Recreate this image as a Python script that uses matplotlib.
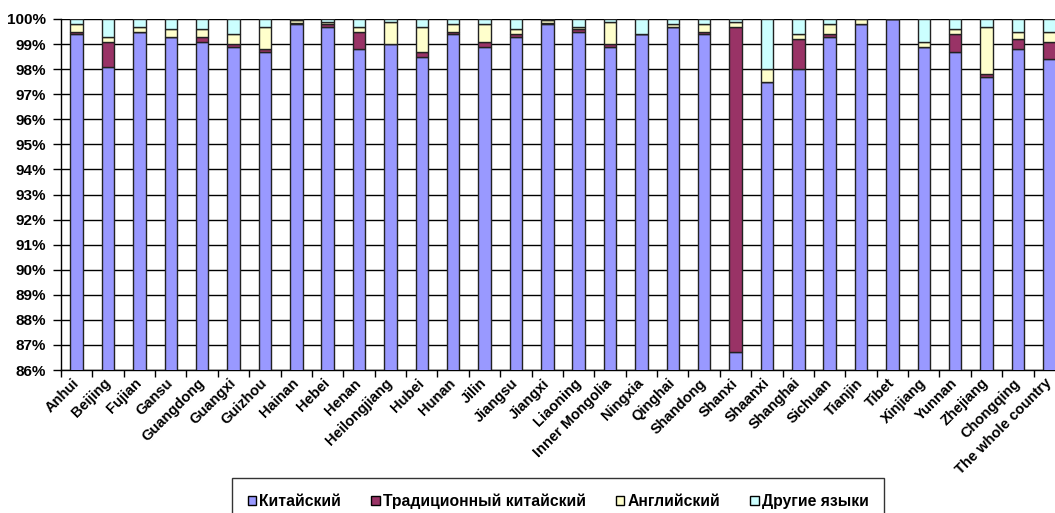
import numpy as np
import matplotlib
matplotlib.use("Agg")
import matplotlib.pyplot as plt
import matplotlib.transforms as mtransforms
from matplotlib.ticker import FuncFormatter

plt.rcParams['font.family'] = ['Liberation Sans', 'DejaVu Sans']
plt.rcParams['font.weight'] = 'bold'

regions = ['Anhui', 'Beijing', 'Fujian', 'Gansu', 'Guangdong', 'Guangxi', 'Guizhou',
           'Hainan', 'Hebei', 'Henan', 'Heilongjiang', 'Hubei', 'Hunan', 'Jilin',
           'Jiangsu', 'Jiangxi', 'Liaoning', 'Inner Mongolia', 'Ningxia', 'Qinghai',
           'Shandong', 'Shanxi', 'Shaanxi', 'Shanghai', 'Sichuan', 'Tianjin', 'Tibet',
           'Xinjiang', 'Yunnan', 'Zhejiang', 'Chongqing', 'The whole country']

chinese = [99.4, 98.1, 99.5, 99.3, 99.1, 98.9, 98.7, 99.8, 99.7, 98.8, 99.0, 98.5,
           99.4, 98.9, 99.3, 99.8, 99.5, 98.9, 99.4, 99.7, 99.4, 86.7, 97.5, 98.0,
           99.3, 99.8, 100.0, 98.9, 98.7, 97.7, 98.8, 98.4]
traditional = [0.1, 1.0, 0.0, 0.0, 0.2, 0.1, 0.1, 0.05, 0.1, 0.7, 0.0, 0.2,
               0.1, 0.2, 0.1, 0.05, 0.1, 0.1, 0.0, 0.0, 0.1, 13.0, 0.0, 1.2,
               0.1, 0.0, 0.0, 0.0, 0.7, 0.1, 0.4, 0.7]
english = [0.3, 0.2, 0.2, 0.3, 0.3, 0.4, 0.9, 0.1, 0.1, 0.2, 0.9, 1.0,
           0.3, 0.7, 0.2, 0.1, 0.1, 0.9, 0.0, 0.1, 0.3, 0.2, 0.5, 0.2,
           0.4, 0.2, 0.0, 0.2, 0.2, 1.9, 0.3, 0.4]
other = [0.2, 0.7, 0.3, 0.4, 0.4, 0.6, 0.3, 0.05, 0.1, 0.3, 0.1, 0.3,
         0.2, 0.2, 0.4, 0.05, 0.3, 0.1, 0.6, 0.2, 0.2, 0.1, 2.0, 0.6,
         0.2, 0.0, 0.0, 0.9, 0.4, 0.3, 0.5, 0.5]

series = [
    ('Китайский', chinese, '#9999FF'),
    ('Традиционный китайский', traditional, '#993366'),
    ('Английский', english, '#FFFFCC'),
    ('Другие языки', other, '#CCFFFF'),
]

fig = plt.figure(figsize=(10.55, 5.13), dpi=100)
ax = fig.add_axes([61 / 1055, 1 - 370 / 513, 1004 / 1055, 351 / 513])

x = np.arange(len(regions))
bottom = np.zeros(len(regions))
for name, vals, color in series:
    vals = np.array(vals)
    ax.bar(x, vals, width=0.4, bottom=bottom, color=color, edgecolor='#222222',
           linewidth=1.0, label=name, zorder=3)
    bottom += vals

ax.set_ylim(86, 100)
ax.set_xlim(-0.5, len(regions) - 0.5)
ax.set_yticks(np.arange(86, 101, 1))
ax.yaxis.set_major_formatter(FuncFormatter(lambda v, p: f'{int(round(v))}%'))
ax.yaxis.grid(True, color='black', linewidth=1.0, zorder=0)
ax.set_axisbelow(True)

ax.set_xticks(x)
ax.set_xticklabels(regions, rotation=45, ha='right', va='center',
                   rotation_mode='anchor', fontsize=10.5, fontweight='bold')
# nudge the slanted labels left so the last one stays inside the figure
shift = mtransforms.ScaledTranslation(-7 / 100, 0, fig.dpi_scale_trans)
for lab in ax.get_xticklabels():
    lab.set_transform(lab.get_transform() + shift)
ax.set_xticks(np.arange(-0.5, len(regions), 1), minor=True)
ax.tick_params(axis='x', which='major', length=0, pad=8)
ax.tick_params(axis='x', which='minor', length=5, width=1, color='black')
ax.tick_params(axis='y', length=6, width=1, pad=5, labelsize=11)
for lab in ax.get_yticklabels():
    lab.set_fontweight('bold')

for s in ['top', 'right']:
    ax.spines[s].set_visible(False)
for s in ['left', 'bottom']:
    ax.spines[s].set_color('black')
    ax.spines[s].set_linewidth(1.0)

leg = fig.legend(loc='upper left', bbox_to_anchor=(232 / 1055, 1 - 478 / 513),
                 ncol=4, frameon=True, fancybox=False, shadow=False,
                 prop={'size': 11.3, 'weight': 'bold'}, handlelength=0.55,
                 handleheight=0.55, handletextpad=0.2, columnspacing=1.9,
                 borderpad=1.0, borderaxespad=0)
leg.get_frame().set_edgecolor('black')
leg.get_frame().set_linewidth(1.0)
for h in leg.legend_handles:
    h.set_edgecolor('black')

fig.savefig('out.png', dpi=100)
